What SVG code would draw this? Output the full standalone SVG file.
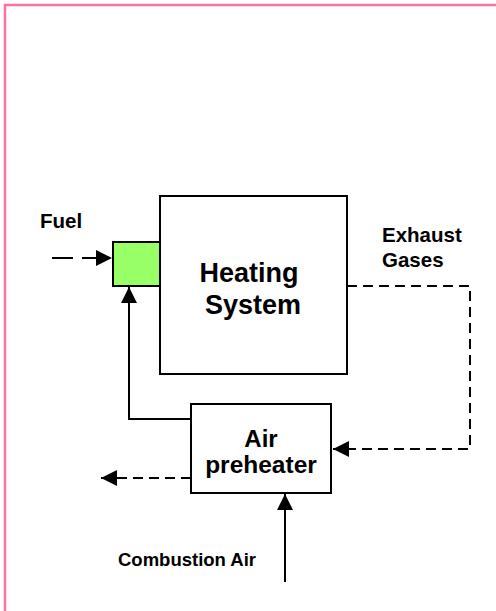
<svg xmlns="http://www.w3.org/2000/svg" width="496" height="611" viewBox="0 0 496 611">
<style>
.box{fill:#fff;stroke:#000;stroke-width:2}
.ln{fill:none;stroke:#000;stroke-width:2}
.ds{stroke-dasharray:10,6}
text{font-family:"Liberation Sans",Arial,sans-serif;font-weight:bold;fill:#000}
</style>
<defs>
<marker id="ah" viewBox="0 0 10 10" refX="10" refY="5" markerWidth="16" markerHeight="16" markerUnits="userSpaceOnUse" orient="auto">
<path d="M0,0 L10,5 L0,10 Z" fill="#000"/>
</marker>
</defs>
<path d="M5,611 L5,5 L496,5" fill="none" stroke="#ff6f9f" stroke-width="2.5"/>
<g id="heating-system">
<rect class="box" x="160" y="196" width="187" height="178"/>
<text x="249" y="282" font-size="27" text-anchor="middle">Heating</text>
<text x="253" y="314" font-size="27" text-anchor="middle">System</text>
</g>
<g id="burner">
<rect x="113" y="242" width="47" height="44" fill="#99ff66" stroke="#000" stroke-width="2"/>
</g>
<g id="air-preheater">
<rect class="box" x="191" y="404" width="140" height="89"/>
<text x="261" y="447" font-size="24" text-anchor="middle">Air</text>
<text x="261" y="473" font-size="24.5" text-anchor="middle">preheater</text>
</g>
<g id="labels">
<text x="40" y="228" font-size="20.5">Fuel</text>
<text x="382" y="242" font-size="20.5">Exhaust</text>
<text x="382" y="267" font-size="20.5">Gases</text>
<text x="118" y="566" font-size="18.5">Combustion Air</text>
</g>
<g id="connectors">
<path class="ln" stroke-dasharray="21,9" d="M52,258 L112,258" marker-end="url(#ah)"/>
<path class="ln ds" d="M347,286 L470,286 L470,449 L333,449" marker-end="url(#ah)"/>
<path class="ln" d="M191,419 L129,419 L129,287" marker-end="url(#ah)"/>
<path class="ln ds" d="M191,478 L101,478" marker-end="url(#ah)"/>
<path class="ln" d="M285,582 L285,494" marker-end="url(#ah)"/>
</g>
</svg>
